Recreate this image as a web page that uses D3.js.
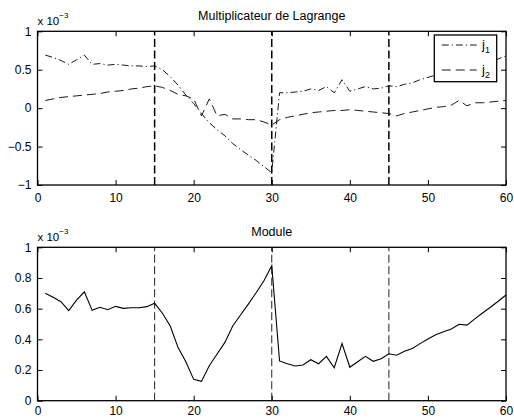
<!DOCTYPE html>
<html>
<head>
<meta charset="utf-8">
<script src="https://cdn.jsdelivr.net/npm/d3@7"></script>
<style>
  body { margin: 0; background: #fff; }
  svg { display: block; font-family: "Liberation Sans", Arial, Helvetica, sans-serif; }
</style>
</head>
<body>
<div id="chart"></div>
<script>
// sample index (time step)
const steps = [1,2,3,4,5,6,7,8,9,10,11,12,13,14,15,16,17,18,19,20,
  21,22,23,24,25,26,27,28,29,30,31,32,33,34,35,36,37,38,39,40,
  41,42,43,44,45,46,47,48,49,50,51,52,53,54,55,56,57,58,59,60];

// Lagrange multipliers (x 1e-3)
const j1 = [0.69,0.66,0.62,0.57,0.63,0.69,0.57,0.58,0.56,0.57,0.56,0.55,0.55,0.54,0.55,0.50,0.41,0.30,0.17,0.06,
  -0.07,-0.19,-0.28,-0.36,-0.46,-0.54,-0.61,-0.68,-0.76,-0.84,0.20,0.20,0.21,0.22,0.25,0.23,0.28,0.20,0.37,0.22,
  0.25,0.28,0.25,0.26,0.29,0.28,0.31,0.33,0.37,0.40,0.43,0.45,0.47,0.49,0.49,0.53,0.57,0.60,0.64,0.68];
const j2 = [0.10,0.12,0.14,0.15,0.16,0.17,0.18,0.19,0.21,0.22,0.23,0.25,0.26,0.28,0.29,0.27,0.23,0.18,0.16,0.12,
  -0.10,0.12,-0.10,-0.08,-0.14,-0.14,-0.15,-0.15,-0.18,-0.22,-0.15,-0.12,-0.10,-0.08,-0.06,-0.05,-0.04,-0.03,-0.03,-0.02,
  -0.03,-0.04,-0.05,-0.06,-0.07,-0.10,-0.07,-0.05,-0.03,-0.01,0.01,0.02,0.04,0.10,0.03,0.07,0.07,0.08,0.09,0.10];

// module (x 1e-3)
const modul = [0.700,0.674,0.645,0.587,0.656,0.710,0.589,0.609,0.593,0.615,0.602,0.606,0.606,0.613,0.635,0.570,0.487,0.346,0.254,0.139,
  0.126,0.228,0.304,0.380,0.487,0.559,0.630,0.704,0.782,0.880,0.259,0.241,0.226,0.233,0.267,0.241,0.289,0.215,0.372,0.218,
  0.254,0.289,0.257,0.274,0.306,0.296,0.322,0.341,0.372,0.402,0.430,0.450,0.467,0.498,0.493,0.533,0.572,0.609,0.648,0.689];

const switchSteps = [15, 30, 45];
const xTicks = [0, 10, 20, 30, 40, 50, 60];
const topYTicks = [-1, -0.5, 0, 0.5, 1];
const botYTicks = [0, 0.2, 0.4, 0.6, 0.8, 1];
const legendLabels = ["1", "2"];

const width = 514;
const height = 420;
const left = 37.5, right = 506;
const fmt = d3.format("~g");

const svg = d3.select("#chart")
  .append("svg")
  .attr("width", width)
  .attr("height", height);

svg.append("rect").attr("width", width).attr("height", height).attr("fill", "#fff");

const x = d3.scaleLinear().domain([0, 60]).range([left, right]);

function panel(opts) {
  const y = d3.scaleLinear().domain(opts.domain).range([opts.bottom, opts.top]);
  const g = svg.append("g");

  // vertical switch lines
  g.selectAll(".vline")
    .data(switchSteps)
    .join("line")
    .attr("x1", d => x(d)).attr("x2", d => x(d))
    .attr("y1", y(opts.domain[0])).attr("y2", y(opts.domain[1]))
    .attr("stroke", opts.vColor)
    .attr("stroke-width", opts.vWidth)
    .attr("stroke-dasharray", "8,3.5");

  // series
  opts.series.forEach(s => {
    const line = d3.line()
      .x((d, i) => x(steps[i]))
      .y(d => y(d));
    g.append("path")
      .attr("d", line(s.values))
      .attr("fill", "none")
      .attr("stroke", "#000")
      .attr("stroke-width", s.width)
      .attr("stroke-dasharray", s.dash);
  });

  // axes, ticks pointing inward on all sides
  const styleAxis = sel => {
    sel.select(".domain").remove();
    sel.selectAll("line").attr("stroke", "#000").attr("stroke-width", 1);
    sel.selectAll("text").attr("font-size", 12).attr("fill", "#000")
      .attr("font-family", "'Liberation Sans', Arial, sans-serif");
  };
  g.append("g")
    .attr("transform", `translate(0,${opts.bottom})`)
    .call(d3.axisBottom(x).tickValues(xTicks).tickSize(-5).tickPadding(opts.xPad).tickFormat(fmt))
    .call(styleAxis);
  g.append("g")
    .attr("transform", `translate(0,${opts.top})`)
    .call(d3.axisTop(x).tickValues(xTicks).tickSize(-5).tickFormat(""))
    .call(styleAxis);
  g.append("g")
    .attr("transform", `translate(${left},0)`)
    .call(d3.axisLeft(y).tickValues(opts.ticks).tickSize(-5).tickPadding(6).tickFormat(fmt))
    .call(styleAxis);
  g.append("g")
    .attr("transform", `translate(${right},0)`)
    .call(d3.axisRight(y).tickValues(opts.ticks).tickSize(-5).tickFormat(""))
    .call(styleAxis);

  // axes box
  g.append("rect")
    .attr("x", left).attr("y", opts.top)
    .attr("width", right - left).attr("height", opts.bottom - opts.top)
    .attr("fill", "none")
    .attr("stroke", "#000")
    .attr("stroke-width", 1.3);

  // title
  g.append("text")
    .attr("x", (left + right) / 2)
    .attr("y", opts.top - 11)
    .attr("text-anchor", "middle")
    .attr("font-size", 12.5)
    .text(opts.title);

  // exponent
  const ex = g.append("text")
    .attr("x", left)
    .attr("y", opts.top - 6)
    .attr("font-size", 11.5);
  ex.append("tspan").text("x 10");
  ex.append("tspan").attr("font-size", 8).attr("dy", -7).text("−3");

  return { g, y };
}

panel({
  top: 31.3, bottom: 185, domain: [-1, 1], ticks: topYTicks,
  title: "Multiplicateur de Lagrange",
  vColor: "#000", vWidth: 1.5, xPad: 8,
  series: [
    { values: j1, dash: "7,3,1.2,3", width: 0.9 },
    { values: j2, dash: "9,5", width: 0.9 }
  ]
});

panel({
  top: 247.3, bottom: 400.7, domain: [0, 1], ticks: botYTicks,
  title: "Module",
  vColor: "#222", vWidth: 1, xPad: 6,
  series: [
    { values: modul, dash: null, width: 1.1 }
  ]
});

// legend
const leg = svg.append("g");
leg.append("rect")
  .attr("x", 434.3).attr("y", 35)
  .attr("width", 62.4).attr("height", 46.7)
  .attr("fill", "#fff")
  .attr("stroke", "#000")
  .attr("stroke-width", 1.3);

const legDash = ["7,3,1.2,3", "9,5"];
const legY = [45, 70];
legendLabels.forEach((lab, i) => {
  leg.append("line")
    .attr("x1", 441.7).attr("x2", 476.7)
    .attr("y1", legY[i]).attr("y2", legY[i])
    .attr("stroke", "#000")
    .attr("stroke-width", 0.9)
    .attr("stroke-dasharray", legDash[i]);
  const t = leg.append("text")
    .attr("x", 482)
    .attr("y", legY[i] + 3.5)
    .attr("font-size", 13);
  t.append("tspan").text("j");
  t.append("tspan").attr("font-size", 9).attr("dy", 4).text(lab);
});
</script>
</body>
</html>
